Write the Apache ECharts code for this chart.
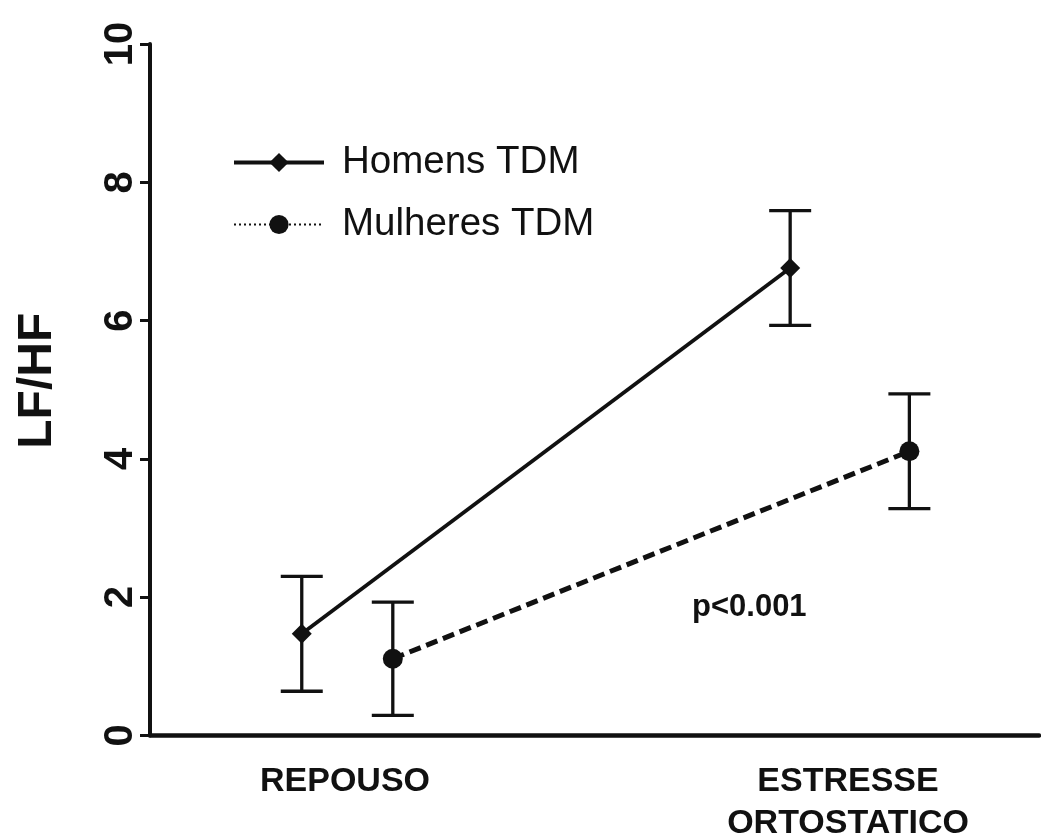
<!DOCTYPE html>
<html>
<head>
<meta charset="utf-8">
<title>LF/HF</title>
<script src="https://cdn.jsdelivr.net/npm/echarts@6/dist/echarts.min.js"></script>
<style>
  html, body { margin: 0; padding: 0; background: #fff; }
  #chart { width: 1041px; height: 838px; }
</style>
</head>
<body>
<div id="chart"></div>
<script>
// Conditions on the x axis
const categories = ['REPOUSO', 'ESTRESSE\nORTOSTATICO'];
// Mean LF/HF and error (half-length of the bar) per condition
const homensMean = [1.47, 6.76];
const homensErr = [0.83, 0.83];
const mulheresMean = [1.11, 4.11];
const mulheresErr = [0.82, 0.83];
const yTicks = [0, 2, 4, 6, 8, 10];
const seriesNames = ['Homens TDM', 'Mulheres TDM'];
const annotation = 'p<0.001';

// Horizontal nudge of each group around its condition (in axis units)
const groupShift = { homens: [-0.086, -0.115], mulheres: [0.095, 0.122] };

const INK = '#111';

function hasFont(name) {
  const ctx = document.createElement('canvas').getContext('2d');
  const sample = 'REPOUSO ESTRESSE ORTOSTATICO';
  ctx.font = 'bold 40px monospace';
  const a = ctx.measureText(sample).width;
  ctx.font = 'bold 40px "' + name + '", monospace';
  const b = ctx.measureText(sample).width;
  return a !== b;
}
const narrow = hasFont('Liberation Sans Narrow');
const catFont = narrow
  ? { fontFamily: '"Liberation Sans Narrow", "Liberation Sans", Arial, sans-serif', fontSize: 40 }
  : { fontFamily: '"Liberation Sans", Arial, sans-serif', fontSize: 34 };

function points(means, shift) {
  return means.map((m, i) => [i + 1 + shift[i], m]);
}

function errorBars(name, means, errs, shift) {
  return {
    type: 'custom',
    name: name,
    silent: true,
    z: 2,
    data: means.map((m, i) => [i + 1 + shift[i], m - errs[i], m + errs[i]]),
    encode: { x: 0, y: [1, 2] },
    renderItem(params, api) {
      const x = api.value(0);
      const lo = api.coord([x, api.value(1)]);
      const hi = api.coord([x, api.value(2)]);
      const half = 21;
      const st = { stroke: INK, lineWidth: 3.3 };
      return {
        type: 'group',
        children: [
          { type: 'line', shape: { x1: lo[0], y1: lo[1], x2: hi[0], y2: hi[1] }, style: st },
          { type: 'line', shape: { x1: hi[0] - half, y1: hi[1], x2: hi[0] + half, y2: hi[1] }, style: st },
          { type: 'line', shape: { x1: lo[0] - half, y1: lo[1], x2: lo[0] + half, y2: lo[1] }, style: st }
        ]
      };
    }
  };
}

const chart = echarts.init(document.getElementById('chart'), null, { renderer: 'canvas' });

chart.setOption({
  backgroundColor: '#fff',
  animation: false,
  grid: { left: 150, right: 2, top: 44, bottom: 102.5, outerBoundsMode: 'none', containLabel: false },
  legend: {
    left: 232,
    top: 143,
    orient: 'vertical',
    padding: 0,
    itemWidth: 90,
    itemHeight: 24,
    itemGap: 23,
    selectedMode: false,
    textStyle: {
      fontFamily: '"Liberation Sans", Arial, sans-serif',
      fontSize: 38.5,
      color: INK,
      lineHeight: 38,
      padding: [0, 0, 0, 13]
    },
    data: [
      { name: seriesNames[0], lineStyle: { color: INK, width: 4, type: 'solid' } },
      { name: seriesNames[1], lineStyle: { color: INK, width: 2, type: [2, 3] } }
    ]
  },
  xAxis: {
    type: 'value',
    min: 0.6123,
    max: 2.3797,
    splitLine: { show: false },
    axisTick: { show: false },
    axisLine: { show: true, onZero: false, lineStyle: { color: INK, width: 4.5 } },
    axisLabel: {
      customValues: [1, 2],
      formatter: v => categories[Math.round(v) - 1] || '',
      fontWeight: 'bold',
      fontFamily: catFont.fontFamily,
      fontSize: catFont.fontSize,
      lineHeight: 42,
      color: INK,
      margin: 25,
      hideOverlap: false
    }
  },
  yAxis: {
    type: 'value',
    min: yTicks[0],
    max: yTicks[yTicks.length - 1],
    interval: yTicks[1] - yTicks[0],
    name: 'LF/HF',
    nameLocation: 'middle',
    nameRotate: 90,
    nameGap: 88,
    nameTextStyle: {
      fontFamily: '"Liberation Sans", Arial, sans-serif',
      fontWeight: 'bold',
      fontSize: 48,
      color: INK,
      padding: [0, 0, 0, 18]
    },
    splitLine: { show: false },
    axisLine: { show: true, lineStyle: { color: INK, width: 4 } },
    axisTick: { show: true, length: 10, lineStyle: { color: INK, width: 3 } },
    axisLabel: {
      rotate: 90,
      margin: 9,
      fontFamily: '"Liberation Sans", Arial, sans-serif',
      fontWeight: 'bold',
      fontSize: 40,
      color: INK
    }
  },
  graphic: [
    {
      type: 'text',
      left: 692,
      top: 592,
      style: {
        text: annotation,
        font: 'bold 31px "Liberation Sans", Arial, sans-serif',
        fill: INK
      }
    }
  ],
  series: [
    errorBars('homens-err', homensMean, homensErr, groupShift.homens),
    errorBars('mulheres-err', mulheresMean, mulheresErr, groupShift.mulheres),
    {
      type: 'line',
      name: seriesNames[0],
      z: 3,
      data: points(homensMean, groupShift.homens),
      symbol: 'diamond',
      symbolSize: 20,
      itemStyle: { color: INK },
      lineStyle: { color: INK, width: 3.8, type: 'solid' }
    },
    {
      type: 'line',
      name: seriesNames[1],
      z: 3,
      data: points(mulheresMean, groupShift.mulheres),
      symbol: 'circle',
      symbolSize: 20,
      itemStyle: { color: INK },
      lineStyle: { color: INK, width: 5, type: [12, 6] }
    }
  ]
});
</script>
</body>
</html>
